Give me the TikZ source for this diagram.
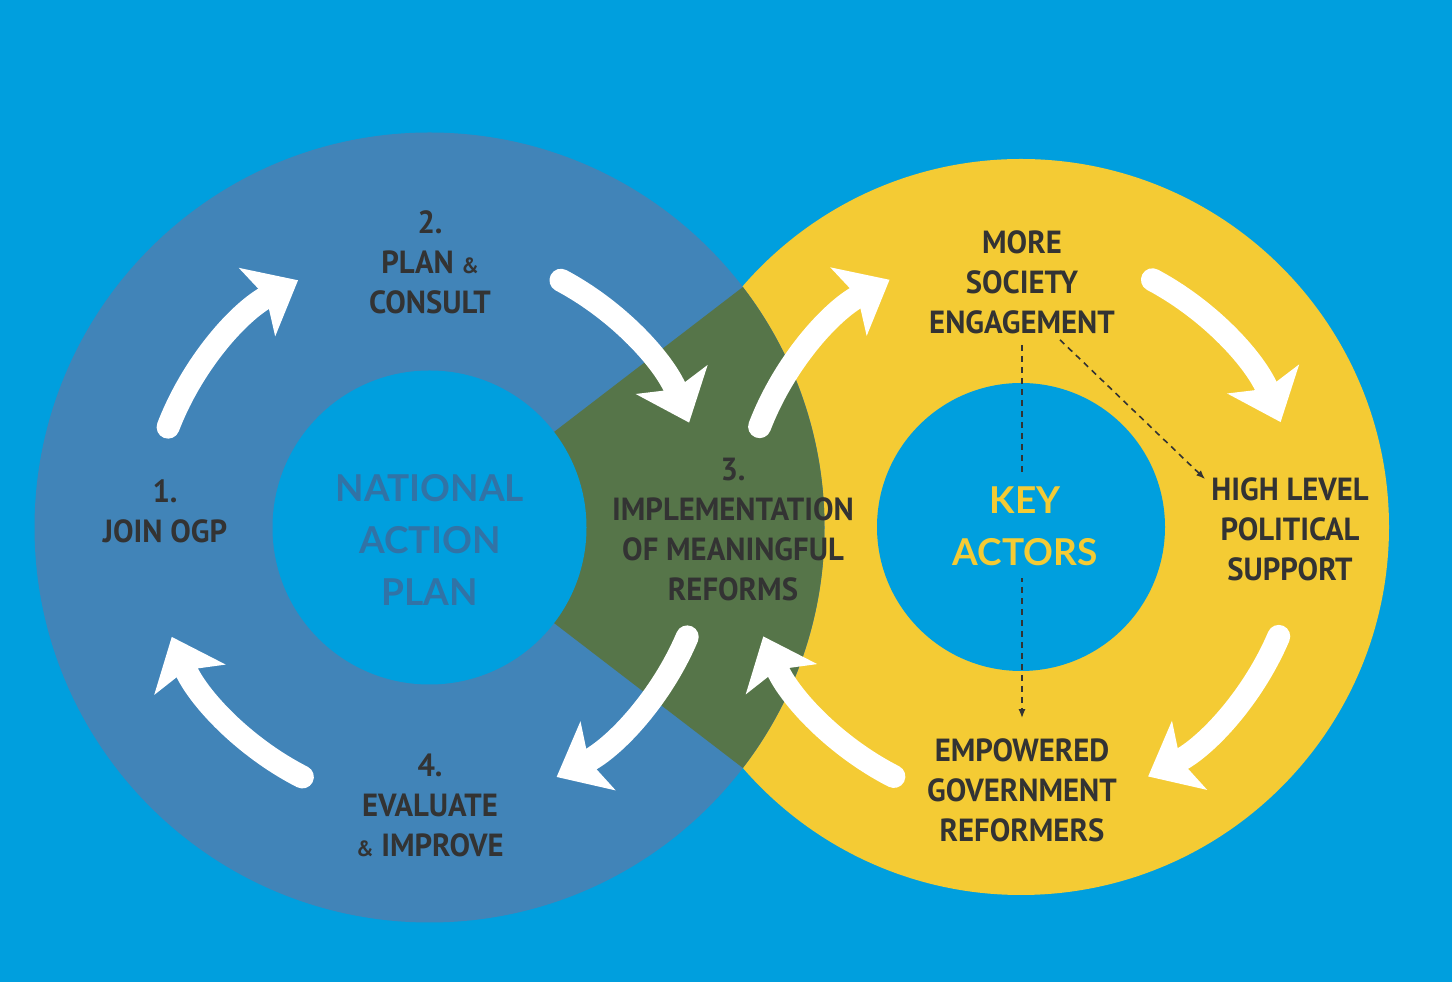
\documentclass[tikz,border=0pt]{standalone}
\usepackage{fontspec}
\usetikzlibrary{arrows.meta}
\newfontfamily\labfont{PT Sans}[FakeStretch=0.96]
\newfontfamily\capfont{Lato}
\definecolor{bg}{HTML}{009FDE}
\definecolor{ringblue}{HTML}{4184B8}
\definecolor{ringgreen}{HTML}{567549}
\definecolor{ringyellow}{HTML}{F4CB34}
\definecolor{textdark}{HTML}{333333}
\definecolor{napblue}{HTML}{3173A6}
\tikzset{
  lab/.style={font=\labfont\bfseries\fontsize{32}{40}\selectfont, text=textdark, align=center, inner sep=0pt},
  hub/.style={font=\capfont\bfseries\fontsize{37}{52}\selectfont, align=center, inner sep=0pt},
  cyclearrow/.style={draw=white, line width=23pt, line cap=round, -{Stealth[width=76pt,length=46pt,inset=10pt]}},
  dashlink/.style={draw=textdark, line width=1.6pt, dash pattern=on 6pt off 5pt, -{Latex[length=9pt,width=7pt]}}
}
\newcommand{\amp}{{\fontsize{22}{40}\selectfont\&}}
\begin{document}
\begin{tikzpicture}[x=1pt,y=1pt]
\useasboundingbox (0,0) rectangle (1452,982);
\fill[bg] (0,0) rectangle (1452,982);
\coordinate (C1) at (429.5,454.5);
\coordinate (C2) at (1021,455);
% rings
\fill[ringyellow] (C2) circle[radius=368];
\fill[ringblue] (C1) circle[radius=395];
\fill[ringgreen] (C1) -- ([shift={(-37.5:395)}]C1) arc[start angle=-37.5,end angle=37.5,radius=395] -- cycle;
\fill[bg] (C1) circle[radius=157];
\fill[bg] (C2) circle[radius=144];
% cycle arrows, left ring
\draw[cyclearrow] ([shift={(159:280)}]C1) arc[start angle=159,end angle=118,radius=280];
\draw[cyclearrow] ([shift={(62:280)}]C1) arc[start angle=62,end angle=22,radius=280];
\draw[cyclearrow] ([shift={(-23:280)}]C1) arc[start angle=-23,end angle=-63,radius=280];
\draw[cyclearrow] ([shift={(-117:280)}]C1) arc[start angle=-117,end angle=-157,radius=280];
% cycle arrows, right ring
\draw[cyclearrow] ([shift={(159:280)}]C2) arc[start angle=159,end angle=118,radius=280];
\draw[cyclearrow] ([shift={(62:280)}]C2) arc[start angle=62,end angle=22,radius=280];
\draw[cyclearrow] ([shift={(-23:280)}]C2) arc[start angle=-23,end angle=-63,radius=280];
\draw[cyclearrow] ([shift={(-117:280)}]C2) arc[start angle=-117,end angle=-157,radius=280];
% labels
\node[lab] (join) at (165,471) {1.\\JOIN OGP};
\node[lab] (plan) at (430,720) {2.\\PLAN \amp\\CONSULT};
\node[lab] (impl) at (733,452) {3.\\IMPLEMENTATION\\OF MEANINGFUL\\REFORMS};
\node[lab] (eval) at (430,177) {4.\\EVALUATE\\\amp{} IMPROVE};
\node[lab] (more) at (1022,700) {MORE\\SOCIETY\\ENGAGEMENT};
\node[lab] (high) at (1290,453) {HIGH LEVEL\\POLITICAL\\SUPPORT};
\node[lab] (emp) at (1022,192) {EMPOWERED\\GOVERNMENT\\REFORMERS};
\node[hub, text=napblue] (nap) at (430,442) {NATIONAL\\ACTION\\PLAN};
% dashed links
\draw[dashlink] ([xshift=0pt,yshift=-11pt]more.south) -- ([yshift=20pt]emp.north);
\draw[dashlink] ([xshift=38pt,yshift=-6pt]more.south) -- ([xshift=-6pt,yshift=-2pt]high.north west);
\node[hub, text=ringyellow, fill=bg, inner sep=12pt] (key) at (1025,456) {KEY\\ACTORS};
\end{tikzpicture}
\end{document}
